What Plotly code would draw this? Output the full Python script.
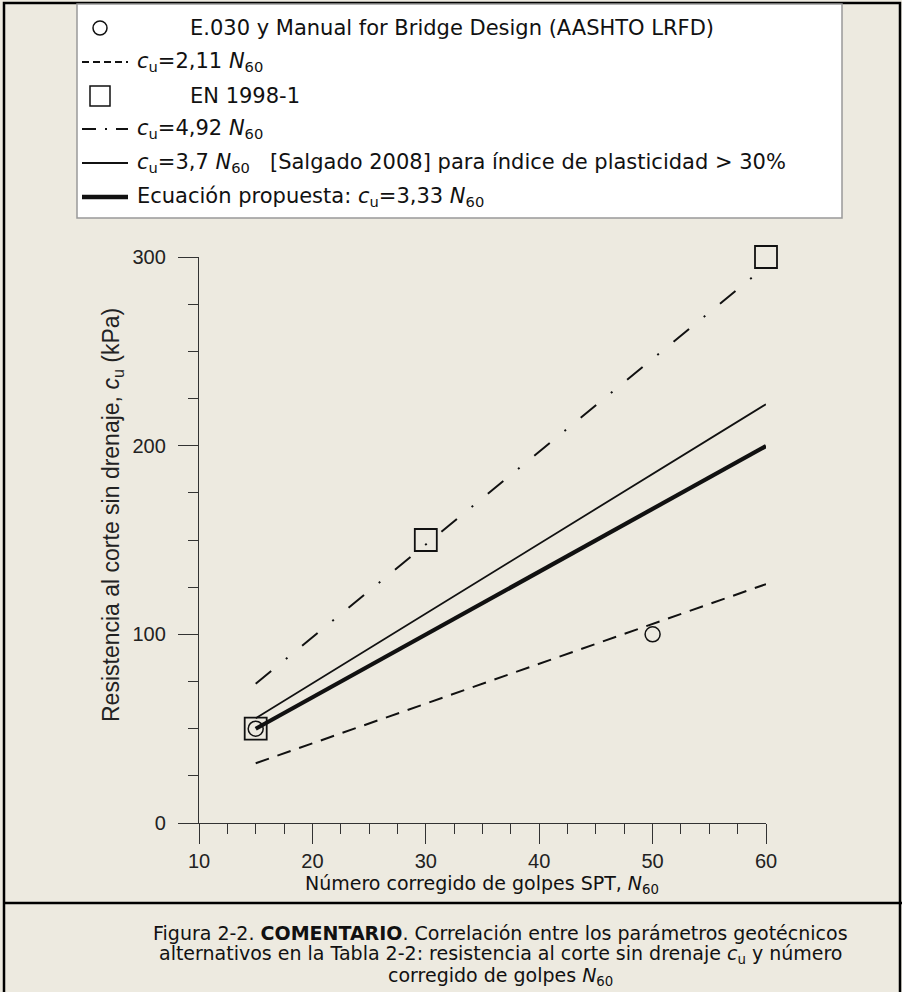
import plotly.graph_objects as go

# ---------------- data ----------------
n60_line = [15, 60]
cu_211 = [31.65, 126.6]      # c_u = 2,11 N60
cu_492 = [73.8, 295.2]       # c_u = 4,92 N60
cu_370 = [55.5, 222.0]       # c_u = 3,7 N60
cu_333 = [49.95, 199.8]      # c_u = 3,33 N60
e030_n60 = [15, 50]
e030_cu = [50, 100]
en_n60 = [15, 30, 60]
en_cu = [50, 150, 300]
x_ticks = [10, 20, 30, 40, 50, 60]
y_ticks = [0, 100, 200, 300]

W, H = 902, 992
ML, MR, MT, MB = 199, 136, 257, 169
PW, PH = W - ML - MR, H - MT - MB
BG = "#EDEAE0"
INK = "#111111"
VER = "DejaVu Sans, Verdana, sans-serif"
ARI = "Liberation Sans, Arial, sans-serif"


def px(x):
    return (x - ML) / PW


def py(y):
    return (H - MB - y) / PH


fig = go.Figure()
fig.add_trace(go.Scatter(x=n60_line, y=cu_211, mode="lines",
                         line=dict(color=INK, width=2, dash="14px,9px"), showlegend=False))
fig.add_trace(go.Scatter(x=n60_line, y=cu_492, mode="lines",
                         line=dict(color=INK, width=2, dash="20px,19px,2px,19px"), showlegend=False))
fig.add_trace(go.Scatter(x=n60_line, y=cu_370, mode="lines",
                         line=dict(color=INK, width=1.8), showlegend=False))
fig.add_trace(go.Scatter(x=n60_line, y=cu_333, mode="lines",
                         line=dict(color=INK, width=4.2), showlegend=False))
fig.add_trace(go.Scatter(x=e030_n60, y=e030_cu, mode="markers", cliponaxis=False,
                         marker=dict(symbol="circle-open", size=15, color=INK, line=dict(width=1.5)),
                         showlegend=False))
fig.add_trace(go.Scatter(x=en_n60, y=en_cu, mode="markers", cliponaxis=False,
                         marker=dict(symbol="square-open", size=22, color=INK, line=dict(width=1.8)),
                         showlegend=False))

axis_common = dict(showgrid=False, zeroline=False, showline=True, linecolor="#333", linewidth=1.3,
                   ticks="outside", ticklen=20, tickwidth=1.3, tickcolor="#333",
                   tickfont=dict(family=ARI, size=20, color="#222"))
fig.update_xaxes(range=[10, 60], tickvals=x_ticks, **axis_common,
                 minor=dict(dtick=2.5, ticks="outside", ticklen=10, tickwidth=1.2, tickcolor="#333"))
fig.update_yaxes(range=[0, 300], tickvals=y_ticks, ticklabelstandoff=8, **axis_common,
                 minor=dict(dtick=25, ticks="outside", ticklen=10, tickwidth=1.2, tickcolor="#333"))

shapes = []
ann = []
# outer frame and separator
shapes.append(dict(type="rect", xref="paper", yref="paper", x0=px(4), x1=px(900), y0=py(3), y1=py(1000),
                   line=dict(color="#000", width=2.5), fillcolor="rgba(0,0,0,0)"))
shapes.append(dict(type="line", xref="paper", yref="paper", x0=px(4), x1=px(902), y0=py(903), y1=py(903),
                   line=dict(color="#000", width=2.5)))
# legend box
shapes.append(dict(type="rect", xref="paper", yref="paper", x0=px(77), x1=px(842), y0=py(4), y1=py(218),
                   line=dict(color="#999", width=1.5), fillcolor="#FFFFFF"))

rows = [28, 62, 96, 129, 163, 197]
MX = 100         # marker column
LX0, LX1 = 82, 128
TX_M, TX_L = 188, 135

# row 1: circle
shapes.append(dict(type="circle", xref="paper", yref="paper", x0=px(MX - 7), x1=px(MX + 7),
                   y0=py(rows[0] - 7), y1=py(rows[0] + 7), line=dict(color=INK, width=1.5)))
# row 2: dashed
shapes.append(dict(type="line", xref="paper", yref="paper", x0=px(LX0), x1=px(LX1), y0=py(rows[1]), y1=py(rows[1]),
                   line=dict(color=INK, width=1.8, dash="7px,4px")))
# row 3: square
shapes.append(dict(type="rect", xref="paper", yref="paper", x0=px(MX - 10), x1=px(MX + 10),
                   y0=py(rows[2] - 10), y1=py(rows[2] + 10), line=dict(color=INK, width=1.5)))
# row 4: dash-dot
shapes.append(dict(type="line", xref="paper", yref="paper", x0=px(LX0), x1=px(LX1), y0=py(rows[3]), y1=py(rows[3]),
                   line=dict(color=INK, width=2, dash="14px,9px,2px,9px")))
# row 5: thin
shapes.append(dict(type="line", xref="paper", yref="paper", x0=px(LX0), x1=px(LX1), y0=py(rows[4]), y1=py(rows[4]),
                   line=dict(color=INK, width=1.8)))
# row 6: thick
shapes.append(dict(type="line", xref="paper", yref="paper", x0=px(LX0), x1=px(LX1), y0=py(rows[5]), y1=py(rows[5]),
                   line=dict(color=INK, width=4.5)))

CU = "<i>c</i><sub>u</sub>"
N60 = "<i>N</i><sub>60</sub>"
leg_texts = [
    (TX_M, "E.030 y Manual for Bridge Design (AASHTO LRFD)"),
    (TX_L, f"{CU}=2,11 {N60}"),
    (TX_M, "EN 1998-1"),
    (TX_L, f"{CU}=4,92 {N60}"),
    (TX_L, f"{CU}=3,7 {N60}\u00a0\u00a0\u00a0[Salgado 2008] para índice de plasticidad &gt; 30%"),
    (TX_L, f"Ecuación propuesta: {CU}=3,33 {N60}"),
]
for (tx, t), ry in zip(leg_texts, rows):
    ann.append(dict(x=px(tx), y=py(ry), xref="paper", yref="paper", text=t, showarrow=False,
                    xanchor="left", yanchor="middle", font=dict(family=VER, size=21, color=INK)))

# axis titles
ann.append(dict(x=px(482), y=py(885), xref="paper", yref="paper",
                text=f"Número corregido de golpes SPT, {N60}", showarrow=False,
                xanchor="center", yanchor="middle", font=dict(family=VER, size=19, color=INK)))
ann.append(dict(x=px(112), y=py(515), xref="paper", yref="paper", textangle=-90,
                text=f"Resistencia al corte sin drenaje, {CU} (kPa)", showarrow=False,
                xanchor="center", yanchor="middle", font=dict(family=ARI, size=23, color="#222")))

# caption
cap = [
    (933, "Figura 2-2. <b>COMENTARIO</b>. Correlación entre los parámetros geotécnicos"),
    (955, f"alternativos en la Tabla 2-2: resistencia al corte sin drenaje {CU} y número"),
    (976, f"corregido de golpes {N60}"),
]
for cy, t in cap:
    ann.append(dict(x=px(500), y=py(cy), xref="paper", yref="paper", text=t, showarrow=False,
                    xanchor="center", yanchor="middle", font=dict(family=VER, size=19, color=INK)))

fig.update_layout(width=W, height=H, margin=dict(l=ML, r=MR, t=MT, b=MB, autoexpand=False),
                  paper_bgcolor=BG, plot_bgcolor=BG, shapes=shapes, annotations=ann, showlegend=False)

fig.write_html("out.html")
